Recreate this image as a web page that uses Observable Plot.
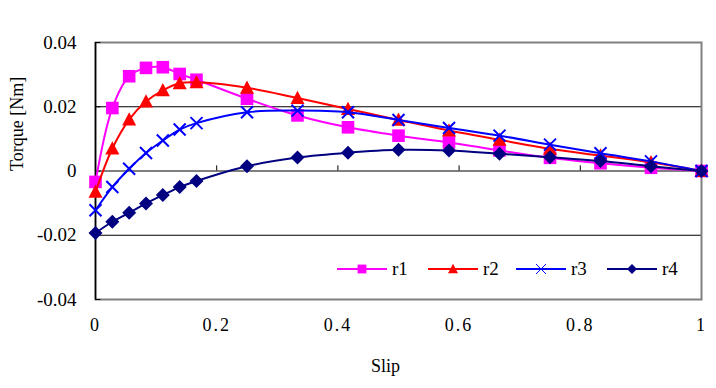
<!DOCTYPE html>
<html><head><meta charset="utf-8">
<script src="https://cdn.jsdelivr.net/npm/d3@7"></script>
<script src="https://cdn.jsdelivr.net/npm/@observablehq/plot@0.6"></script>
<style>body{margin:0;background:#fff}</style>
</head><body><div id="chart"></div>
<script>
const slip = [0, 1/36, 2/36, 3/36, 4/36, 5/36, 6/36, 9/36, 12/36, 15/36, 18/36, 21/36, 24/36, 27/36, 30/36, 33/36, 1];
const r1 = [-0.0034, 0.0196, 0.0295, 0.0321, 0.0323, 0.0302, 0.0284, 0.0225, 0.0173, 0.0136, 0.0110, 0.0089, 0.0064, 0.0041, 0.0024, 0.0010, 0];
const r2 = [-0.0065, 0.0070, 0.0160, 0.0216, 0.0251, 0.0273, 0.0276, 0.0259, 0.0227, 0.0193, 0.0159, 0.0126, 0.0097, 0.0069, 0.0048, 0.0027, 0];
const r3 = [-0.0122, -0.0050, 0.0007, 0.0056, 0.0095, 0.0129, 0.0149, 0.0183, 0.0188, 0.0183, 0.0159, 0.0134, 0.0110, 0.0082, 0.0055, 0.0030, 0];
const r4 = [-0.0193, -0.0158, -0.0130, -0.0101, -0.0075, -0.0050, -0.0031, 0.0015, 0.0042, 0.0057, 0.0066, 0.0064, 0.0054, 0.0043, 0.0031, 0.0015, 0];
const seriesNames = ["r1", "r2", "r3", "r4"];
const seriesColors = ["#FF00FF", "#FF0000", "#0000FF", "#000080"];
const xTicks = [0, 0.2, 0.4, 0.6, 0.8, 1];
const yTicks = [-0.04, -0.02, 0, 0.02, 0.04];
const xLabel = "Slip";
const yLabel = "Torque [Nm]";

const rad = size => Math.sqrt(size / Math.PI);
const symSquare = {draw(c, s){const r = rad(s); c.rect(-r, -r, 2*r, 2*r);}};
const symTri = {draw(c, s){const r = rad(s); c.moveTo(0, -r*1.05); c.lineTo(r, r*0.85); c.lineTo(-r, r*0.85); c.closePath();}};
const symTimes = {draw(c, s){const r = rad(s); c.moveTo(-r, -r); c.lineTo(r, r); c.moveTo(r, -r); c.lineTo(-r, r);}};
const symDiamond = {draw(c, s){const r = rad(s); c.moveTo(0, -r); c.lineTo(r, 0); c.lineTo(0, r); c.lineTo(-r, 0); c.closePath();}};
const symbols = [symSquare, symTri, symTimes, symDiamond];
const symR = [6.3, 7, 6, 7];
const legR = [4.4, 5, 5, 5];

const values = [r1, r2, r3, r4];
const data = seriesNames.map((name, i) => slip.map((x, j) => ({x, y: values[i][j], name})));

const marks = [
  Plot.ruleY([-0.02, 0, 0.02], {stroke: "black", strokeWidth: 1}),
  Plot.frame({stroke: "#808080", strokeWidth: 2}),
  Plot.ruleX([0], {stroke: "black", strokeWidth: 1.5}),
  Plot.ruleX(xTicks.slice(1, -1), {x: d => d, y1: 0, y2: 0.0016, stroke: "black"}),
  Plot.ruleY(yTicks, {y: d => d, x1: 0, x2: 0.009, stroke: "black"}),
  Plot.axisX({ticks: xTicks, tickSize: 0, tickPadding: 19, tickFormat: d => String(d), fontFamily: "Liberation Sans Narrow", fontSize: 18, label: null}),
  Plot.axisY({ticks: yTicks, tickSize: 0, tickPadding: 19, tickFormat: d => d === 0 ? "0" : d.toFixed(2).replace("\u2212", "-"), fontSize: 19, label: null}),
  Plot.text([yLabel], {frameAnchor: "left", dx: -78, rotate: -90, text: d => d, fontSize: 18}),
  Plot.text([xLabel], {frameAnchor: "bottom", dx: -13, dy: 72, text: d => d, fontSize: 18})
];
data.forEach((d, i) => {
  marks.push(Plot.line(d, {x: "x", y: "y", stroke: seriesColors[i], strokeWidth: 2, curve: "catmull-rom"}));
  if (i === 2) {
    marks.push(Plot.dot(d, {x: "x", y: "y", symbol: symbols[i], r: symR[i], stroke: seriesColors[i], fill: "none", strokeWidth: 2}));
  } else {
    marks.push(Plot.dot(d, {x: "x", y: "y", symbol: symbols[i], r: symR[i], fill: seriesColors[i], stroke: "none"}));
  }
});

const chart = Plot.plot({
  width: 716, height: 388,
  marginLeft: 95, marginRight: 15, marginTop: 42, marginBottom: 89,
  style: {fontFamily: "Liberation Serif", background: "white", color: "black"},
  x: {domain: [0, 1]},
  y: {domain: [-0.04, 0.04]},
  marks
});
document.getElementById("chart").appendChild(chart);

// x tick label spacing
d3.select(chart).selectAll('g[aria-label="x-axis tick label"] text').style("letter-spacing", "2px");

// legend
const svg = d3.select(chart);
const leg = svg.append("g").attr("font-family", "Liberation Serif").attr("font-size", 19).attr("text-anchor", "start");
const legCx = [362, 453, 541, 632];
const legY = 269;
seriesNames.forEach((name, i) => {
  const cx = legCx[i];
  leg.append("line").attr("x1", cx - 25).attr("x2", cx + 25).attr("y1", legY).attr("y2", legY)
    .attr("stroke", seriesColors[i]).attr("stroke-width", 2);
  const p = leg.append("path").attr("transform", `translate(${cx},${legY})`)
    .attr("d", d3.symbol(symbols[i], Math.PI * legR[i] * legR[i])());
  if (i === 2) p.attr("fill", "none").attr("stroke", seriesColors[i]).attr("stroke-width", 1);
  else p.attr("fill", seriesColors[i]);
  leg.append("text").attr("x", cx + 30).attr("y", legY + 6).text(name);
});
</script>
</body></html>
